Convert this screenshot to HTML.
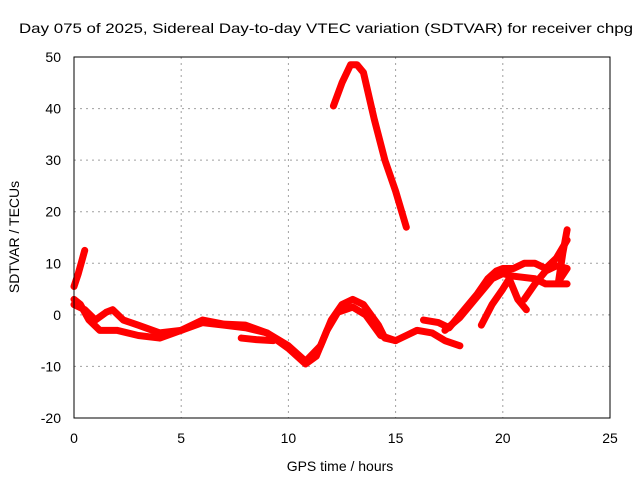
<!DOCTYPE html>
<html><head><meta charset="utf-8"><style>
body{margin:0;background:#fff}
svg{display:block;font-family:"Liberation Sans",sans-serif;font-size:14px}
</style></head><body>
<svg id="c" width="640" height="480">
<text x="19" y="33" textLength="614" lengthAdjust="spacingAndGlyphs">Day 075 of 2025, Sidereal Day-to-day VTEC variation (SDTVAR) for receiver chpg</text>
<text x="340" y="471" text-anchor="middle">GPS time / hours</text>
<text transform="translate(19,237) rotate(-90)" text-anchor="middle">SDTVAR / TECUs</text>
<g id="grid"></g><g id="ticks"></g><g id="series"></g>
<rect x="74" y="57" width="536" height="361" fill="none" stroke="#000"/>
</svg>
<script>
const xTicks=[0,5,10,15,20,25];
const yTicks=[-20,-10,0,10,20,30,40,50];
const seriesA=[[0,5.5],[0.2,8],[0.4,11],[0.5,12.5]];
const seriesB=[[0,3],[0.3,2],[0.7,-1],[1.2,-3],[2,-3],[3,-4],[4,-4.5],[5,-3],[6,-1.5],[7,-2],[8,-2.5],[9,-3.5],[10,-6.5],[10.8,-9.5],[11.3,-8],[11.8,-3],[12.3,0.5],[13,1.5],[13.6,0],[14.3,-4],[15,-5],[15.5,-4],[16,-3],[16.7,-3.5],[17.3,-5],[18,-6]];
const seriesC=[[0,2],[0.5,1],[1,-1],[1.5,0.5],[1.8,1],[2.3,-1],[3,-2],[4,-3.5],[5,-3],[6,-1],[7,-1.8],[8,-2],[9,-3.5],[10,-6],[10.8,-9],[11.5,-6],[12,-1],[12.5,2],[13,3],[13.5,2],[14.2,-2],[14.5,-4.5],[15,-5]];
const seriesD=[[12.1,40.5],[12.5,45],[12.9,48.5],[13.2,48.5],[13.5,47],[14,38],[14.5,30],[15,24],[15.5,17]];
const seriesE=[[16.3,-1],[17,-1.5],[17.5,-2.5],[18,0],[18.8,4],[19.3,7],[19.7,8.5],[20,9],[20.5,9],[21,10],[21.5,10],[22,9],[22.5,11],[23,14.5]];
const seriesF=[[17.3,-3],[18,-0.5],[18.8,3.5],[19.5,7],[20,8],[20.5,7.5],[21.5,7],[22,6],[23,6]];
const seriesG=[[19,-2],[19.5,2],[20,5],[20.3,7],[20.7,3],[21.1,1]];
const seriesH=[[21,3],[21.5,6],[22,8.5],[22.5,9.5],[23,9],[22.6,6.5],[22.8,12],[23,16.5]];
const seriesI=[[7.8,-4.5],[8.5,-4.8],[9.3,-5]];
const allSeries=[seriesA,seriesB,seriesC,seriesD,seriesE,seriesF,seriesG,seriesH,seriesI];
const X=v=>74+v*536/25, Y=v=>418-(v+20)*361/70;
const NS='http://www.w3.org/2000/svg';
const g=document.getElementById('grid'),t=document.getElementById('ticks'),s=document.getElementById('series');
function mk(tag,a,p){const e=document.createElementNS(NS,tag);for(const k in a)e.setAttribute(k,a[k]);p.appendChild(e);return e;}
xTicks.forEach(v=>{
 if(v>0&&v<25){const l=mk('line',{x1:X(v),x2:X(v),y1:57,y2:418,stroke:'#a0a0a0','stroke-dasharray':'2,4'},g);
 
 }
 const tx=mk('text',{x:X(v),y:443,'text-anchor':'middle'},t);tx.textContent=v;
 
 
});
yTicks.forEach(v=>{
 if(v>-20&&v<50){const l=mk('line',{x1:74,x2:610,y1:Y(v),y2:Y(v),stroke:'#a0a0a0','stroke-dasharray':'2,4'},g);
 
 }
 const ty=mk('text',{x:61,y:Y(v)+5,'text-anchor':'end'},t);ty.textContent=v;
 
 
});
allSeries.forEach((d,i)=>{
 const p=mk('polyline',{points:d.map(q=>X(q[0])+','+Y(q[1])).join(' '),fill:'none',stroke:'#f00','stroke-width':7,'stroke-linejoin':'round','stroke-linecap':'round'},s);
 
 
});
</script>
</body></html>
